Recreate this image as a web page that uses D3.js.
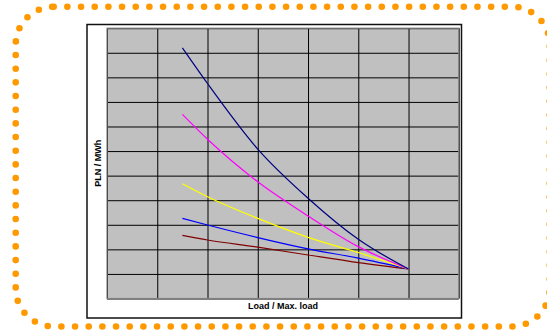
<!DOCTYPE html>
<html><head><meta charset="utf-8">
<script src="https://cdn.jsdelivr.net/npm/d3@7/dist/d3.min.js"></script>
<style>body{margin:0;background:#fff;}svg{display:block;}</style>
</head><body>
<script>
// Data
const loadRatio = [0.55, 0.6, 0.7, 0.8, 0.9, 1.0];
const xTicks = [0.4, 0.5, 0.6, 0.7, 0.8, 0.9, 1.0, 1.1];
const yTicks = [0, 10, 20, 30, 40, 50, 60, 70, 80, 90, 100, 110];
const seriesNavy    = [102, 87.5, 60.8, 40.8, 24.1, 12];
const seriesMagenta = [74.9, 64.8, 47.5, 33.6, 21.1, 12];
const seriesYellow  = [46.7, 41.4, 32.6, 24.9, 18.7, 12];
const seriesBlue    = [32.6, 29.9, 24.8, 20.2, 16.4, 12];
const seriesDarkRed = [25.7, 23.8, 20.9, 17.7, 14.6, 12];
const seriesColors = ["#000080", "#FF00FF", "#FFFF00", "#0000FF", "#800000"];
const xLabel = "Load / Max. load";
const yLabel = "PLN / MWh";

const W = 547, H = 331;
const svg = d3.select("body").append("svg").attr("width", W).attr("height", H);

// orange dotted rounded border
svg.append("rect")
  .attr("x", 15.7).attr("y", 6.7).attr("width", 534).attr("height", 319.8)
  .attr("rx", 38).attr("ry", 38)
  .attr("fill", "none").attr("stroke", "#FF9900").attr("stroke-width", 6.6)
  .attr("stroke-linecap", "round").attr("stroke-dasharray", "0 13.67");

// chart frame
svg.append("rect")
  .attr("x", 87).attr("y", 24.5).attr("width", 374.5).attr("height", 293.5)
  .attr("fill", "#fff").attr("stroke", "#111").attr("stroke-width", 1.5);

const pl = 107, pt = 28.2, pr = 458.8, pb = 298.5;
const x = d3.scaleLinear().domain([0.4, 1.1]).range([pl, pr]);
const y = d3.scaleLinear().domain([0, 110]).range([pb, pt]);

svg.append("rect").attr("x", pl).attr("y", pt).attr("width", pr - pl).attr("height", pb - pt)
  .attr("fill", "#C0C0C0");

const g = svg.append("g");
// grid via axes
g.append("g").attr("transform", `translate(0,${pb})`)
  .call(d3.axisBottom(x).tickValues(xTicks).tickSize(-(pb - pt)).tickFormat(""))
  .call(s => s.select(".domain").remove())
  .call(s => s.selectAll("line").attr("stroke", "#000").attr("stroke-width", 1));
g.append("g").attr("transform", `translate(${pl},0)`)
  .call(d3.axisLeft(y).tickValues(yTicks).tickSize(-(pr - pl)).tickFormat(""))
  .call(s => s.select(".domain").remove())
  .call(s => s.selectAll("line").attr("stroke", "#000").attr("stroke-width", 1));

svg.append("rect").attr("x", pl).attr("y", pt).attr("width", pr - pl).attr("height", pb - pt)
  .attr("fill", "none").attr("stroke", "#808080").attr("stroke-width", 1.2);

const series = [seriesNavy, seriesMagenta, seriesYellow, seriesBlue, seriesDarkRed];
const line = d3.line().x((d, i) => x(loadRatio[i])).y(d => y(d)).curve(d3.curveMonotoneX);
series.slice().reverse().forEach((s, k) => {
  const idx = series.length - 1 - k;
  svg.append("path").datum(s).attr("d", line)
    .attr("fill", "none").attr("stroke", seriesColors[idx]).attr("stroke-width", 1.2);
});

// labels
svg.append("text").attr("x", (pl + pr) / 2).attr("y", 309)
  .attr("text-anchor", "middle").attr("font-family", "Liberation Sans, Arial, sans-serif")
  .attr("font-weight", "bold").attr("font-size", 9).attr("fill", "#000").text(xLabel);
svg.append("text").attr("transform", `translate(101,${(pt + pb) / 2}) rotate(-90)`)
  .attr("text-anchor", "middle").attr("font-family", "Liberation Sans, Arial, sans-serif")
  .attr("font-weight", "bold").attr("font-size", 9).attr("fill", "#000").text(yLabel);
</script>
</body></html>
